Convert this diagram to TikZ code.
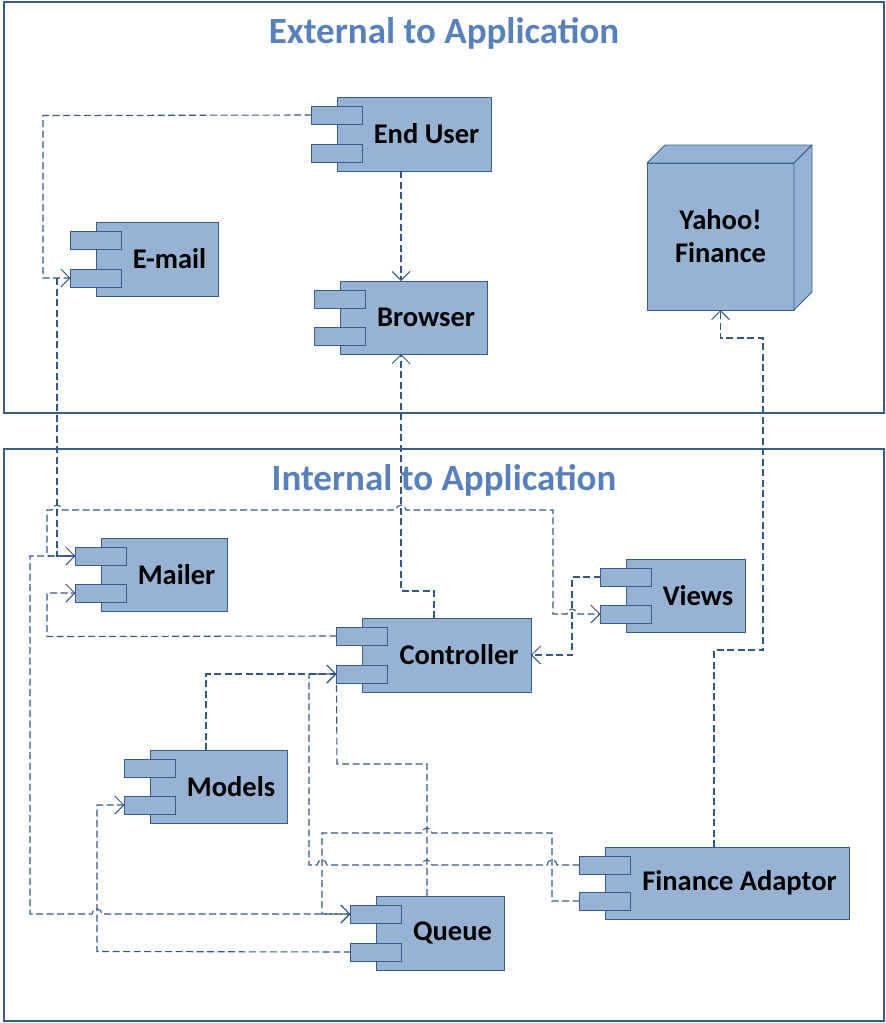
\documentclass[tikz,border=0pt]{standalone}
\usepackage{fontspec}
\setmainfont{Carlito}
\usetikzlibrary{arrows.meta}

\definecolor{boxfill}{RGB}{151,178,211}
\definecolor{boxline}{RGB}{56,93,138}
\definecolor{titleblue}{RGB}{88,129,186}
\definecolor{wire}{RGB}{52,88,134}

\tikzset{
  frame/.style={draw=boxline, line width=1.4pt},
  body/.style={draw=boxline, fill=boxfill, line width=0.9pt, inner sep=0pt, outer sep=0pt},
  tabbox/.style={body, minimum width=51pt, minimum height=18pt},
  lbl/.style={font=\bfseries\fontsize{28.5}{32}\selectfont, inner sep=0pt},
  ttl/.style={font=\bfseries\fontsize{37}{42}\selectfont, text=titleblue, inner sep=0pt},
  conn/.style={draw=wire, line width=1.1pt, dash pattern=on 7pt off 3.5pt},
  tip/.style={-{Straight Barb[length=9pt,width=18pt,line width=1pt]}},
}

% component symbol: name, left, top, right, bottom, label
\newcommand\comp[6]{%
  \node[body, minimum width={#4-#2}, minimum height={#5-#3}] (#1) at ({(#2+#4)/2},{(#3+#5)/2}) {};
  \node[tabbox] (#1-t1) at ({#2},{#3+18}) {};
  \node[tabbox] (#1-t2) at ({#2},{#5-18}) {};
  \node[lbl] (#1-l) at ({(#2+25+#4)/2},{(#3+#5)/2}) {#6};
}

\begin{document}
\begin{tikzpicture}[x=1pt,y=-1pt]
\useasboundingbox (0,0) rectangle (886,1023);

% two areas
\draw[frame] (4,2) rectangle (884,413);
\draw[frame] (4,449) rectangle (884,1021);
\node[ttl] (t-ext) at (444,33) {External to Application};
\node[ttl] (t-int) at (444,480) {Internal to Application};

% external components
\comp{eu}{337}{97}{491}{171}{End User}
\comp{em}{96}{222}{218}{296}{E-mail}
\comp{br}{340}{281}{487}{354}{Browser}

% Yahoo! Finance node (3-D box)
\node[body, minimum width=147pt, minimum height=147pt] (yf) at (720.5,236.5) {};
\filldraw[draw=boxline, fill=boxfill, line width=0.9pt, line join=round]
  (yf.north west) -- ++(18,-18) -- ++(147,0) -- (yf.north east) -- cycle;
\filldraw[draw=boxline, fill=boxfill, line width=0.9pt, line join=round]
  (yf.north east) -- ++(18,-18) -- ++(0,147) -- (yf.south east) -- cycle;
\node[lbl, align=center] (yf-l) at (yf.center) {Yahoo!\\[1pt]Finance};

% internal components
\comp{ml}{101}{538}{227}{611}{Mailer}
\comp{ct}{362}{618}{531}{692}{Controller}
\comp{vw}{626}{559}{745}{632}{Views}
\comp{md}{150}{750}{287}{823}{Models}
\comp{qu}{376}{896}{504}{970}{Queue}
\comp{fa}{605}{847}{849}{919}{Finance Adaptor}

% routing columns
\coordinate (c401) at (401,0);
\coordinate (c434) at (434,0);
\coordinate (c206) at (206,0);
\coordinate (c427) at (427,0);
\coordinate (c714) at (714,0);

% End User -> E-mail
\draw[conn,tip] (eu-t1.west) -- (43,115.5) |- (em-t2.west);
% End User -> Browser
\draw[conn,tip] (eu.south -| c401) -- (br.north -| c401);
% Controller -> Browser
\draw[conn,tip] (ct.north -| c434) -- (434,591) -- (401,591) -- (br.south -| c401);
% E-mail -> Mailer
\draw[conn,tip] (57,278) -- (57,556) -- (ml-t1.west);
% Mailer -> Views
\draw[conn,tip] (ml-t1.west) -- (47,556) -- (47,510) -- (52,510)
  arc[start angle=180,end angle=0,radius=5pt] -- (396,510)
  arc[start angle=180,end angle=0,radius=5pt] -- (553,510) -- (553,614) -- (567,614)
  arc[start angle=180,end angle=0,radius=5pt] -- (vw-t2.west);
% Views -> Controller
\draw[conn,tip] (vw-t1.west) -- (572,577) -- (572,655) -- (ct.east);
% Controller -> Mailer
\draw[conn,tip] (ct-t1.west) -- (47,636.5) -- (47,593) -- (ml-t2.west);
% Models -> Controller
\draw[conn,tip] (md.north -| c206) -- (206,674) -- (ct-t2.west);
% Finance Adaptor -> Controller
\draw[conn,tip] (fa-t1.west) -- (557,865)
  arc[start angle=0,end angle=180,radius=5pt] -- (432,865)
  arc[start angle=0,end angle=180,radius=5pt] -- (327,865)
  arc[start angle=0,end angle=180,radius=5pt] -- (309,865) -- (309,674) -- (ct-t2.west);
% Queue -> Controller
\draw[conn] (qu.north -| c427) -- (427,764) -- (337,764) -- (ct-t2.south west);
% Finance Adaptor -> Queue
\draw[conn,tip] (fa-t2.west) -- (552,901) -- (552,833) -- (432,833)
  arc[start angle=0,end angle=180,radius=5pt] -- (322,833) -- (322,914) -- (qu-t1.west);
% Mailer -> Queue
\draw[conn,tip] (ml-t1.west) -- (30,556) -- (30,914) -- (92,914)
  arc[start angle=180,end angle=0,radius=5pt] -- (qu-t1.west);
% Queue -> Models
\draw[conn,tip] (qu-t2.west) -- (97,951.5) -- (97,805) -- (md-t2.west);
% Finance Adaptor -> Yahoo! Finance
\draw[conn,tip] (fa.north -| c714) -- (714,650) -- (763,650) -- (763,338) -- (720.5,338) -- (yf.south);
\end{tikzpicture}
\end{document}
